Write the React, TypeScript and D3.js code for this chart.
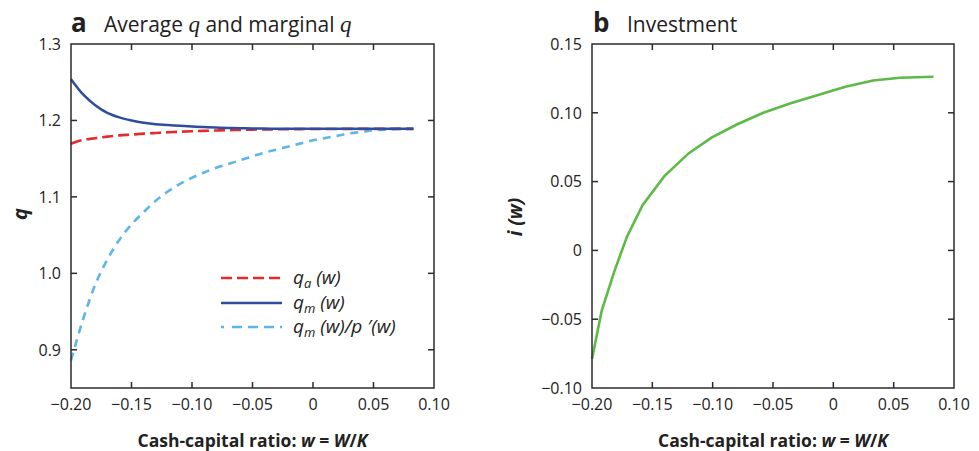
import React from 'react';
import * as d3 from 'd3';

// ---------- data ----------
const wGrid = [-0.2, -0.19, -0.18, -0.17, -0.16, -0.15, -0.14, -0.13, -0.12, -0.11, -0.1, -0.09, -0.08, -0.07, -0.06, -0.05, -0.04, -0.03, -0.02, -0.01, 0, 0.01, 0.02, 0.03, 0.04, 0.05, 0.06, 0.07, 0.08, 0.083];
const qaValues = [1.1695, 1.1745, 1.1768, 1.1788, 1.1805, 1.1815, 1.1827, 1.1836, 1.1845, 1.1852, 1.1858, 1.1864, 1.1869, 1.1873, 1.1877, 1.188, 1.1882, 1.1884, 1.1886, 1.1887, 1.1888, 1.1889, 1.1889, 1.189, 1.189, 1.189, 1.189, 1.189, 1.189, 1.189];
const qmValues = [1.254, 1.234, 1.22, 1.21, 1.204, 1.2, 1.197, 1.195, 1.194, 1.193, 1.192, 1.1913, 1.1907, 1.1902, 1.1898, 1.1895, 1.1893, 1.1892, 1.1891, 1.189, 1.189, 1.189, 1.189, 1.189, 1.189, 1.189, 1.189, 1.189, 1.189, 1.189];
const qmpValues = [0.886, 0.94, 0.985, 1.018, 1.044, 1.064, 1.08, 1.095, 1.107, 1.117, 1.125, 1.132, 1.138, 1.143, 1.148, 1.153, 1.158, 1.162, 1.166, 1.17, 1.174, 1.177, 1.18, 1.183, 1.185, 1.187, 1.188, 1.189, 1.189, 1.189];

const invW = [-0.2, -0.192, -0.181, -0.171, -0.158, -0.14, -0.12, -0.101, -0.08, -0.058, -0.036, -0.014, 0.01, 0.033, 0.055, 0.083];
const invValues = [-0.079, -0.044, -0.014, 0.01, 0.033, 0.054, 0.0705, 0.082, 0.0915, 0.1, 0.1068, 0.1126, 0.119, 0.1235, 0.1255, 0.1262];

const xTicks = [-0.2, -0.15, -0.1, -0.05, 0, 0.05, 0.1];
const xTickLabels = ['−0.20', '−0.15', '−0.10', '−0.05', '0', '0.05', '0.10'];
const qTicks = [0.9, 1.0, 1.1, 1.2, 1.3];
const qTickLabels = ['0.9', '1.0', '1.1', '1.2', '1.3'];
const iTicks = [-0.1, -0.05, 0, 0.05, 0.1, 0.15];
const iTickLabels = ['−0.10', '−0.05', '0', '0.05', '0.10', '0.15'];

const SANS = "'Open Sans', 'Noto Sans', sans-serif";
const AXIS = '#2b2b2b';
const RED = '#e52a2d';
const BLUE = '#2f4c9e';
const CYAN = '#5cb7e6';
const GREEN = '#5cba47';

type PanelProps = {
  left: number; right: number; top: number; bottom: number;
  yDomain: [number, number];
  yTicks: number[]; yTickLabels: string[];
  children: (x: d3.ScaleLinear<number, number>, y: d3.ScaleLinear<number, number>) => React.ReactNode;
};

function Panel({ left, right, top, bottom, yDomain, yTicks, yTickLabels, children }: PanelProps) {
  const x = d3.scaleLinear().domain([-0.2, 0.1]).range([left, right]);
  const y = d3.scaleLinear().domain(yDomain).range([bottom, top]);
  const tl = 6;
  const eps = 1e-9;
  const innerX = xTicks.filter((t) => t > -0.2 + eps && t < 0.1 - eps);
  const innerY = yTicks.filter((t) => t > yDomain[0] + eps && t < yDomain[1] - eps);
  return (
    <g>
      {children(x, y)}
      <rect x={left} y={top} width={right - left} height={bottom - top} fill="none" stroke={AXIS} strokeWidth={1.5} />
      {innerX.map((t) => (
        <g key={'xt' + t}>
          <line x1={x(t)} x2={x(t)} y1={bottom} y2={bottom - tl} stroke={AXIS} strokeWidth={1.5} />
          <line x1={x(t)} x2={x(t)} y1={top} y2={top + tl} stroke={AXIS} strokeWidth={1.5} />
        </g>
      ))}
      {innerY.map((t) => (
        <g key={'yt' + t}>
          <line x1={left} x2={left + tl} y1={y(t)} y2={y(t)} stroke={AXIS} strokeWidth={1.5} />
          <line x1={right} x2={right - tl} y1={y(t)} y2={y(t)} stroke={AXIS} strokeWidth={1.5} />
        </g>
      ))}
      {xTicks.map((t, i) => (
        <text key={'xl' + t} x={x(t)} y={bottom + 22} textAnchor="middle" fontFamily={SANS} fontSize={16} fill="#222">
          {xTickLabels[i]}
        </text>
      ))}
      {yTicks.map((t, i) => (
        <text key={'yl' + t} x={left - 10} y={y(t)} dy="0.36em" textAnchor="end" fontFamily={SANS} fontSize={16} fill="#222">
          {yTickLabels[i]}
        </text>
      ))}
      <text x={(left + right) / 2} y={447} textAnchor="middle" fontFamily={SANS} fontSize={17.5} fontWeight="bold" fill="#222">
        Cash-capital ratio: <tspan fontStyle="italic">w</tspan> = <tspan fontStyle="italic">W</tspan>/<tspan fontStyle="italic">K</tspan>
      </text>
    </g>
  );
}

export default function App() {
  const W = 979, H = 451;
  return (
    <svg width={W} height={H} style={{ position: 'absolute', left: 0, top: 0, background: '#fff' }}>
      {/* Panel a */}
      <Panel left={71} right={434} top={44} bottom={388} yDomain={[0.85, 1.3]} yTicks={qTicks} yTickLabels={qTickLabels}>
        {(x, y) => {
          const line = d3.line<number>().x((_, i) => x(wGrid[i])).y((d) => y(d)).curve(d3.curveMonotoneX);
          return (
            <g>
              <path d={line(qmpValues) || ''} fill="none" stroke={CYAN} strokeWidth={2.6} strokeDasharray="8,6" />
              <path d={line(qaValues) || ''} fill="none" stroke={RED} strokeWidth={2.6} strokeDasharray="11,5" />
              <path d={line(qmValues) || ''} fill="none" stroke={BLUE} strokeWidth={2.5} />
            </g>
          );
        }}
      </Panel>
      {/* Legend */}
      <g fontFamily={SANS} fontSize={19} fontStyle="italic" fill="#222">
        <line x1={221} x2={282} y1={278} y2={278} stroke={RED} strokeWidth={2.6} strokeDasharray="11,5" />
        <text x={293} y={284}>q<tspan fontSize={13} dy={4}>a</tspan><tspan dy={-4}> (w)</tspan></text>
        <line x1={221} x2={282} y1={303} y2={303} stroke={BLUE} strokeWidth={2.5} />
        <text x={293} y={309}>q<tspan fontSize={13} dy={4}>m</tspan><tspan dy={-4}> (w)</tspan></text>
        <line x1={221} x2={282} y1={327} y2={327} stroke={CYAN} strokeWidth={2.6} strokeDasharray="3,8,10,6,10,6,10,6,10" />
        <text x={293} y={333}>q<tspan fontSize={13} dy={4}>m</tspan><tspan dy={-4}> (w)/p ′(w)</tspan></text>
      </g>
      {/* Panel b */}
      <Panel left={592} right={954} top={44} bottom={388} yDomain={[-0.1, 0.15]} yTicks={iTicks} yTickLabels={iTickLabels}>
        {(x, y) => {
          const line = d3.line<number>().x((_, i) => x(invW[i])).y((d) => y(d));
          return <path d={line(invValues) || ''} fill="none" stroke={GREEN} strokeWidth={2.6} />;
        }}
      </Panel>
      {/* Titles */}
      <text x={71} y={32} fontFamily={SANS} fill="#222">
        <tspan fontSize={26} fontWeight="bold">a</tspan>
        <tspan x={104} fontSize={21}>Average </tspan>
        <tspan fontSize={23} fontStyle="italic" fontFamily="'Liberation Serif', serif">q</tspan>
        <tspan fontSize={21}> and marginal </tspan>
        <tspan fontSize={23} fontStyle="italic" fontFamily="'Liberation Serif', serif">q</tspan>
      </text>
      <text x={593} y={32} fontFamily={SANS} fill="#222">
        <tspan fontSize={26} fontWeight="bold">b</tspan>
        <tspan x={627} fontSize={21}>Investment</tspan>
      </text>
      {/* Y labels */}
      <text transform="translate(27,214) rotate(-90)" textAnchor="middle" fontFamily={SANS} fontSize={20} fontWeight="bold" fontStyle="italic" fill="#222">q</text>
      <text transform="translate(522,217) rotate(-90)" textAnchor="middle" fontFamily={SANS} fontSize={19} fontWeight="bold" fontStyle="italic" fill="#222">i (w)</text>
    </svg>
  );
}
